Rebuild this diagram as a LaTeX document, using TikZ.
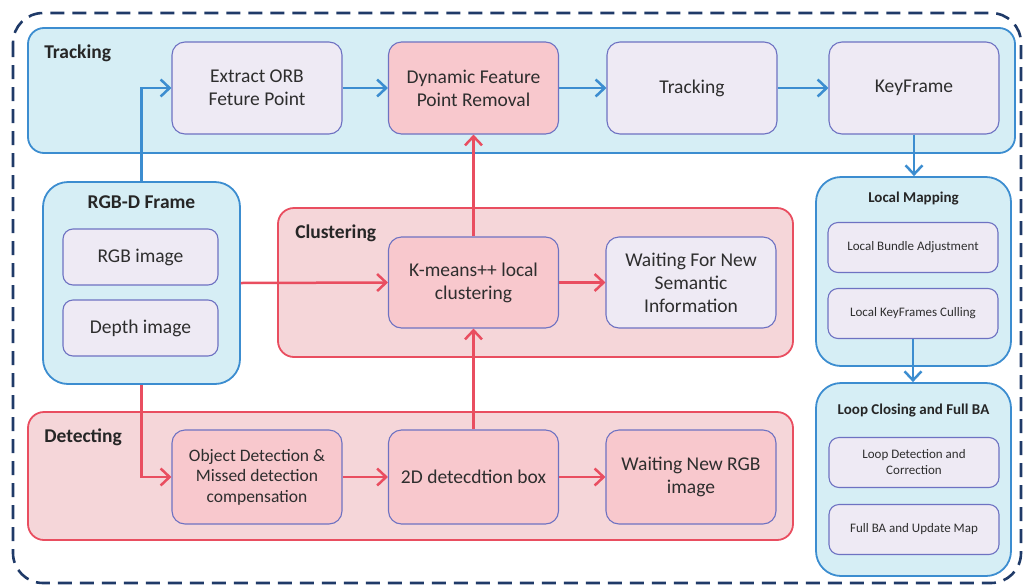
\documentclass[tikz,border=0pt]{standalone}
\usepackage{fontspec}
\setmainfont{Carlito}
\definecolor{navy}{HTML}{1F3A68}
\definecolor{sblue}{HTML}{3C8DD0}
\definecolor{sbluefill}{HTML}{D6EEF5}
\definecolor{lavfill}{HTML}{EEEAF4}
\definecolor{lavline}{HTML}{6E72C2}
\definecolor{pinkfill}{HTML}{F8C8CD}
\definecolor{pinkpanel}{HTML}{F5D6D9}
\definecolor{sred}{HTML}{E94E60}
\definecolor{txt}{HTML}{2E2E2E}
\usetikzlibrary{positioning, arrows.meta}

\begin{document}
\begin{tikzpicture}[x=1pt, y=-1pt,
  panel/.style={line width=1.8pt, rounded corners=16pt, inner sep=0pt},
  bpanel/.style={panel, draw=sblue, fill=sbluefill},
  rpanel/.style={panel, draw=sred, fill=pinkpanel},
  box/.style={draw=lavline, line width=1.1pt, rounded corners=13pt,
              minimum width=170pt, minimum height=92pt, align=center,
              inner sep=2pt, text=txt, font=\fontsize{19.5}{23}\selectfont},
  lbox/.style={box, fill=lavfill},
  pbox/.style={box, fill=pinkfill},
  sbox/.style={lbox, rounded corners=10pt, minimum height=50pt,
               font=\fontsize{13}{16}\selectfont},
  plabel/.style={font=\fontsize{19.5}{22}\bfseries\selectfont, text=black!85, inner sep=0pt},
  slabel/.style={font=\fontsize{15}{17}\bfseries\selectfont, text=black!85, inner sep=0pt},
  barrow/.style={draw=sblue, line width=2.5pt, -{Straight Barb[length=9pt, width=17pt]}},
  rarrow/.style={draw=sred, line width=2.5pt, -{Straight Barb[length=9pt, width=17pt]}},
]
\useasboundingbox (0,0) rectangle (1026,587);

% outer frame
\draw[navy, line width=2.6pt, dash pattern=on 14pt off 8pt, rounded corners=30pt]
  (13,13) rectangle (1021,583);

% panels
\node[bpanel, minimum width=987pt, minimum height=125pt] (track) at (521.5,90.5) {};
\node[bpanel, rounded corners=25pt, minimum width=197pt, minimum height=202pt] (rgbd) at (141.5,283) {};
\node[rpanel, minimum width=515pt, minimum height=149pt] (clus) at (535.5,282.5) {};
\node[rpanel, minimum width=765pt, minimum height=128pt] (detect) at (410.5,476) {};
\node[bpanel, rounded corners=25pt, minimum width=195pt, minimum height=189pt] (lmap) at (913.5,271.5) {};
\node[bpanel, rounded corners=25pt, minimum width=195pt, minimum height=193pt] (loop) at (913.5,479.5) {};

\node[plabel, below right=18pt and 17pt of track.north west, anchor=north west] (trackl) {Tracking};
\node[plabel, below=14pt of rgbd.north, anchor=north] (rgbdl) {RGB-D Frame};
\node[plabel, below right=18pt and 18pt of clus.north west, anchor=north west] (clusl) {Clustering};
\node[plabel, below right=17pt and 17pt of detect.north west, anchor=north west] (detectl) {Detecting};
\node[slabel, below=16pt of lmap.north, anchor=north] (lmapl) {Local Mapping};
\node[slabel, below=22pt of loop.north, anchor=north] (loopl) {Loop Closing and Full BA};

% tracking row
\node[lbox] (orb) at (257,88) {Extract ORB\\Feture Point};
\node[pbox] (dyn) at (473.5,88) {Dynamic Feature\\Point Removal};
\node[lbox] (trk) at (692,88) {Tracking};
\node[lbox] (kf) at (914,88) {KeyFrame};

% rgb-d frame
\node[lbox, minimum width=155pt, minimum height=56pt, rounded corners=10pt] (rgb) at (140.5,257) {RGB image};
\node[lbox, minimum width=155pt, minimum height=56pt, rounded corners=10pt] (depth) at (140.5,328) {Depth image};

% clustering row
\node[pbox, minimum height=91pt] (kmeans) at (473.5,282.5) {K-means++ local\\clustering};
\node[lbox, minimum height=91pt] (waitsem) at (691,282.5) {Waiting For New\\Semantic\\Information};

% detecting row
\node[pbox, minimum height=94pt, font=\fontsize{17.5}{20.5}\selectfont] (objdet) at (257,477)
  {Object Detection \&\\Missed detection\\compensation};
\node[pbox, minimum height=94pt] (box2d) at (473.5,477) {2D detecdtion box};
\node[pbox, minimum height=94pt] (waitrgb) at (691,477) {Waiting New RGB\\image};

% right column
\node[sbox] (lba) at (913,247.5) {Local Bundle Adjustment};
\node[sbox] (lkc) at (913,313.5) {Local KeyFrames Culling};
\node[sbox] (ldc) at (914,462.5) {Loop Detection and\\Correction};
\node[sbox] (fba) at (914,529.5) {Full BA and Update Map};

% connectors
\draw[barrow] (rgbd.north) |- (orb.west);
\draw[barrow] (orb) -- (dyn);
\draw[barrow] (dyn) -- (trk);
\draw[barrow] (trk) -- (kf);
\draw[barrow] (kf.south) -- (lmap.north -| kf.south);
\draw[barrow] (lkc.south) -- (loop.north -| lkc.south);

\draw[rarrow] (rgbd.east) -- (kmeans.west);
\draw[rarrow] (kmeans) -- (waitsem);
\draw[rarrow] (kmeans) -- (dyn);
\draw[rarrow] (rgbd.south) |- (objdet.west);
\draw[rarrow] (objdet) -- (box2d);
\draw[rarrow] (box2d) -- (waitrgb);
\draw[rarrow] (box2d) -- (kmeans);
\end{tikzpicture}
\end{document}
